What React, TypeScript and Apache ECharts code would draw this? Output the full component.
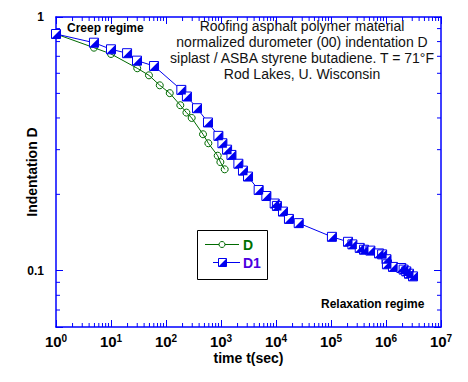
import React, { useEffect, useRef } from "react";
import * as echarts from "echarts";

// ---- data ----
const tD = [1, 4.9, 10, 30, 49, 77, 117, 182, 235, 293, 471, 589, 871, 974, 1167];
const valD = [0.857, 0.757, 0.715, 0.628, 0.589, 0.538, 0.501, 0.449, 0.42, 0.4, 0.345, 0.318, 0.284, 0.268, 0.251];

const tD1 = [
  1, 4.9, 10, 19.6, 29.7, 60.6, 190, 240, 366, 580, 896, 1060, 1290, 1550, 2070, 2510, 3100,
  4840, 6680, 9460, 10400, 13400, 17200, 25900, 104000, 204000, 245000, 333000, 398000, 520000,
  747000, 850000, 1020000, 1040000, 1340000, 1900000, 2090000, 2340000, 2620000, 3100000,
];
const valD1 = [
  0.857, 0.792, 0.746, 0.72, 0.673, 0.641, 0.516, 0.486, 0.437, 0.384, 0.34, 0.318, 0.3, 0.286,
  0.264, 0.248, 0.235, 0.208, 0.197, 0.184, 0.18, 0.171, 0.16, 0.154, 0.136, 0.13, 0.127, 0.123,
  0.121, 0.12, 0.117, 0.116, 0.111, 0.106, 0.1035, 0.1025, 0.101, 0.0994, 0.0973, 0.095,
];

const seriesNames = ["D", "D1"];
const titleLines = [
  "Roofing asphalt polymer material",
  "normalized durometer (00) indentation D",
  "siplast / ASBA styrene butadiene. T = 71°F",
  "Rod Lakes, U. Wisconsin",
];
const xTitle = "time t(sec)";
const yTitle = "Indentation D";
const creepLabel = "Creep regime";
const relaxLabel = "Relaxation regime";

const X_MIN = 1;
const X_MAX = 1e7;
const Y_MIN = 0.06;
const Y_MAX = 1;

// minor tick positions (2..9 per decade)
const xMinor: number[] = [];
for (let k = 0; k < 7; k++) for (let m = 2; m <= 9; m++) xMinor.push(m * Math.pow(10, k));
const yMinor: number[] = [0.07, 0.08, 0.09, 0.2, 0.3, 0.4, 0.5, 0.6, 0.7, 0.8, 0.9];

const BLUE = "#0000f0";
const AXIS = "#0000ff";
const GREEN = "#006a00";
const FONT = "'Liberation Sans', Arial, sans-serif";

export default function App() {
  const ref = useRef<HTMLDivElement>(null);

  useEffect(() => {
    document.body.style.margin = "0";
    if (!ref.current) return;
    const chart = echarts.init(ref.current, undefined, { renderer: "svg" });

    const tickStyle = { show: true, inside: true, length: 7, lineStyle: { color: AXIS, width: 1 } };
    const lineStyleAxis = { show: true, onZero: false, lineStyle: { color: AXIS, width: 1.5 } };

    const xFmt = (v: number) => {
      const l = Math.log10(v);
      const n = Math.round(l);
      if (Math.abs(l - n) > 0.01) return "";
      return `{b|10}{s|${n}}`;
    };
    const yFmt = (v: number) => {
      if (Math.abs(v - 1) < 1e-6) return "1";
      if (Math.abs(v - 0.1) < 1e-6) return "0.1";
      return "";
    };

    const d1Data = tD1.map((t, i) => [t, valD1[i]]);

    const option: any = {
      animation: false,
      backgroundColor: "#ffffff",
      textStyle: { fontFamily: FONT },
      grid: { left: 56, top: 17, right: 27, bottom: 55, containLabel: false },
      xAxis: [
        {
          type: "log",
          logBase: 10,
          min: X_MIN,
          max: X_MAX,
          position: "bottom",
          axisLine: lineStyleAxis,
          axisTick: tickStyle,
          splitLine: { show: false },
          name: xTitle,
          nameLocation: "middle",
          nameGap: 24,
          nameMoveOverlap: false,
          nameTextStyle: { fontFamily: FONT, fontWeight: "bold", fontSize: 14, color: "#000" },
          axisLabel: {
            formatter: xFmt,
            margin: 6,
            rich: {
              b: { fontFamily: FONT, fontWeight: "bold", fontSize: 15, color: "#000", lineHeight: 16 },
              s: { fontFamily: FONT, fontWeight: "bold", fontSize: 10, color: "#000", verticalAlign: "top", lineHeight: 10 },
            },
          },
        },
        {
          type: "log",
          logBase: 10,
          min: X_MIN,
          max: X_MAX,
          position: "top",
          axisLine: lineStyleAxis,
          axisTick: tickStyle,
          splitLine: { show: false },
          axisLabel: { show: false },
        },
      ],
      yAxis: [
        {
          type: "log",
          logBase: 10,
          min: Y_MIN,
          max: Y_MAX,
          position: "left",
          axisLine: lineStyleAxis,
          axisTick: tickStyle,
          splitLine: { show: false },
          name: yTitle,
          nameLocation: "middle",
          nameRotate: 90,
          nameGap: 17,
          nameMoveOverlap: false,
          nameTextStyle: { fontFamily: FONT, fontWeight: "bold", fontSize: 14, color: "#000" },
          axisLabel: {
            formatter: yFmt,
            margin: 12,
            fontFamily: FONT,
            fontWeight: "bold",
            fontSize: 12,
            color: "#000",
          },
        },
        {
          type: "log",
          logBase: 10,
          min: Y_MIN,
          max: Y_MAX,
          position: "right",
          axisLine: lineStyleAxis,
          axisTick: tickStyle,
          splitLine: { show: false },
          axisLabel: { show: false },
        },
      ],
      series: [
        {
          type: "custom",
          name: "xminor",
          silent: true,
          xAxisIndex: 0,
          yAxisIndex: 0,
          data: xMinor.map((v) => [v, Y_MIN]),
          renderItem: (params: any, api: any) => {
            const b = api.coord([api.value(0), Y_MIN]);
            const t = api.coord([api.value(0), Y_MAX]);
            const st = { stroke: AXIS, lineWidth: 1 };
            return {
              type: "group",
              children: [
                { type: "line", shape: { x1: b[0], y1: b[1], x2: b[0], y2: b[1] - 4 }, style: st },
                { type: "line", shape: { x1: t[0], y1: t[1], x2: t[0], y2: t[1] + 4 }, style: st },
              ],
            };
          },
        },
        {
          type: "custom",
          name: "yminor",
          silent: true,
          xAxisIndex: 0,
          yAxisIndex: 0,
          data: yMinor.map((v) => [X_MIN, v]),
          renderItem: (params: any, api: any) => {
            const l = api.coord([X_MIN, api.value(1)]);
            const r = api.coord([X_MAX, api.value(1)]);
            const st = { stroke: AXIS, lineWidth: 1 };
            return {
              type: "group",
              children: [
                { type: "line", shape: { x1: l[0], y1: l[1], x2: l[0] + 4, y2: l[1] }, style: st },
                { type: "line", shape: { x1: r[0], y1: r[1], x2: r[0] - 4, y2: r[1] }, style: st },
              ],
            };
          },
        },
        {
          type: "line",
          name: seriesNames[0],
          xAxisIndex: 0,
          yAxisIndex: 0,
          data: tD.map((t, i) => [t, valD[i]]),
          symbol: "circle",
          symbolSize: 7,
          showAllSymbol: true,
          lineStyle: { color: GREEN, width: 1 },
          itemStyle: { color: "rgba(0,0,0,0)", borderColor: GREEN, borderWidth: 1 },
          z: 3,
        },
        {
          type: "line",
          name: seriesNames[1],
          xAxisIndex: 0,
          yAxisIndex: 0,
          data: d1Data,
          symbol: "rect",
          symbolSize: 9,
          showAllSymbol: true,
          lineStyle: { color: BLUE, width: 1 },
          itemStyle: { color: "#ffffff", borderColor: BLUE, borderWidth: 1 },
          z: 4,
        },
        {
          type: "scatter",
          name: seriesNames[1] + "-fill",
          xAxisIndex: 0,
          yAxisIndex: 0,
          data: d1Data,
          symbol: "path://M10,0 L10,10 L0,10 Z",
          symbolSize: 9,
          itemStyle: { color: BLUE, opacity: 1 },
          silent: true,
          z: 5,
        },
      ],
      graphic: [
        {
          type: "text",
          x: 302,
          y: 18,
          style: {
            text: titleLines.join("\n"),
            textAlign: "center",
            textVerticalAlign: "top",
            font: `14px ${FONT}`,
            lineHeight: 16,
            fill: "#111",
          },
        },
        {
          type: "text",
          x: 67,
          y: 28,
          style: { text: creepLabel, textVerticalAlign: "middle", font: `bold 12px ${FONT}`, fill: "#000" },
        },
        {
          type: "text",
          x: 321,
          y: 304,
          style: { text: relaxLabel, textVerticalAlign: "middle", font: `bold 12px ${FONT}`, fill: "#000" },
        },
        // legend
        {
          type: "rect",
          shape: { x: 197.5, y: 230.5, width: 70, height: 49 },
          style: { fill: "#fff", stroke: "#000", lineWidth: 1 },
          z: 10,
        },
        {
          type: "line",
          shape: { x1: 205, y1: 244.5, x2: 239, y2: 244.5 },
          style: { stroke: GREEN, lineWidth: 1 },
          z: 11,
        },
        {
          type: "circle",
          shape: { cx: 222, cy: 244.5, r: 3 },
          style: { fill: "#fff", stroke: GREEN, lineWidth: 1 },
          z: 12,
        },
        {
          type: "text",
          x: 243,
          y: 245,
          style: { text: seriesNames[0], textVerticalAlign: "middle", font: `bold 14px ${FONT}`, fill: "#007000" },
          z: 12,
        },
        {
          type: "line",
          shape: { x1: 213, y1: 262.5, x2: 240, y2: 262.5 },
          style: { stroke: BLUE, lineWidth: 1 },
          z: 11,
        },
        {
          type: "rect",
          shape: { x: 218.5, y: 258.5, width: 8, height: 8 },
          style: { fill: "#fff", stroke: BLUE, lineWidth: 1 },
          z: 12,
        },
        {
          type: "polygon",
          shape: { points: [[226.5, 258.5], [226.5, 266.5], [218.5, 266.5]] },
          style: { fill: BLUE },
          z: 13,
        },
        {
          type: "text",
          x: 243,
          y: 263,
          style: { text: seriesNames[1], textVerticalAlign: "middle", font: `bold 14px ${FONT}`, fill: "#4a00e0" },
          z: 12,
        },
      ],
    };

    chart.setOption(option);
    return () => chart.dispose();
  }, []);

  return <div ref={ref} style={{ width: 468, height: 382 }} />;
}
